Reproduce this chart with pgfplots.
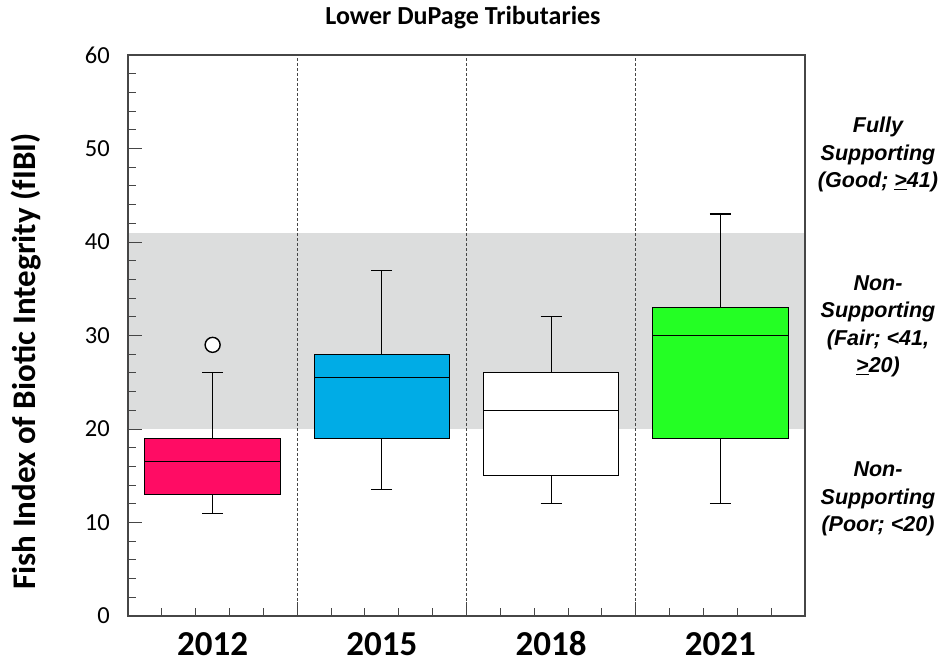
\documentclass[border=0pt]{standalone}
\usepackage{fontspec}
\setmainfont{Carlito}
\newfontfamily\arialfont{Liberation Sans}
\usepackage{pgfplots}
\pgfplotsset{compat=1.18}
\usepgfplotslibrary{statistics}
\definecolor{pinkbox}{RGB}{255,12,100}
\definecolor{bluebox}{RGB}{0,172,230}
\definecolor{greenbox}{RGB}{36,255,36}
\definecolor{bandgray}{RGB}{220,221,221}
\definecolor{axgray}{RGB}{70,70,70}
\begin{document}
\begin{tikzpicture}
\path[use as bounding box] (-128bp,-46bp) rectangle (815bp,616bp);
\begin{axis}[
  at={(0,0)}, anchor=south west,
  scale only axis, width=677bp, height=561bp,
  xmin=-0.5, xmax=3.5, ymin=0, ymax=60,
  xtick={0,1,2,3}, xticklabels={2012,2015,2018,2021},
  minor xtick={-0.3,-0.1,0.1,0.3,0.7,0.9,1.1,1.3,1.7,1.9,2.1,2.3,2.7,2.9,3.1,3.3},
  ytick={0,10,...,60}, minor ytick={2,4,...,58},
  xtick pos=bottom, ytick pos=left,
  tick align=inside,
  major tick length=14bp, minor tick length=8bp,
  major x tick style={draw=none},
  tick style={axgray, line width=1bp},
  axis line style={axgray, line width=1.6bp},
  axis on top,
  /pgf/number format/assume math mode=true,
  yticklabel style={font=\fontsize{24.5bp}{24.5bp}\selectfont, anchor=east, inner sep=0pt, xshift=-18bp},
  xticklabel style={font=\bfseries\fontsize{35bp}{35bp}\selectfont, anchor=base, inner sep=0pt, yshift=-39bp},
  clip=false,
  boxplot/draw direction=y,
]
\addplot[draw=none, fill=bandgray, forget plot] coordinates {(-0.5,20) (3.5,20) (3.5,41) (-0.5,41)} -- cycle;
\addplot[axgray, line width=0.8bp, dash pattern=on 3bp off 2bp, forget plot] coordinates {(0.5,0) (0.5,60)};
\addplot[axgray, line width=0.8bp, dash pattern=on 3bp off 2bp, forget plot] coordinates {(1.5,0) (1.5,60)};
\addplot[axgray, line width=0.8bp, dash pattern=on 3bp off 2bp, forget plot] coordinates {(2.5,0) (2.5,60)};
\addplot[axgray, line width=1bp, forget plot] coordinates {(0.5,0) (0.5,1.5)};
\addplot[axgray, line width=1bp, forget plot] coordinates {(1.5,0) (1.5,1.5)};
\addplot[axgray, line width=1bp, forget plot] coordinates {(2.5,0) (2.5,1.5)};
\addplot[boxplot prepared={draw position=0, lower whisker=11, lower quartile=13, median=16.5, upper quartile=19, upper whisker=26, box extend=0.8, whisker extend=0.125}, draw=black, fill=pinkbox, line width=1.1bp] coordinates {};
\addplot[boxplot prepared={draw position=1, lower whisker=13.5, lower quartile=19, median=25.5, upper quartile=28, upper whisker=37, box extend=0.8, whisker extend=0.125}, draw=black, fill=bluebox, line width=1.1bp] coordinates {};
\addplot[boxplot prepared={draw position=2, lower whisker=12, lower quartile=15, median=22, upper quartile=26, upper whisker=32, box extend=0.8, whisker extend=0.125}, draw=black, fill=white, line width=1.1bp] coordinates {};
\addplot[boxplot prepared={draw position=3, lower whisker=12, lower quartile=19, median=30, upper quartile=33, upper whisker=43, box extend=0.8, whisker extend=0.125}, draw=black, fill=greenbox, line width=1.1bp] coordinates {};
\addplot[only marks, mark=*, mark size=7.5bp, mark options={fill=white, draw=black, line width=1.4bp}] coordinates {(0,29)};
\end{axis}
\node[font=\bfseries\fontsize{26bp}{26bp}\selectfont, anchor=base] at (335bp,591bp) {Lower DuPage Tributaries};
\node[rotate=90, anchor=base, font=\bfseries\fontsize{33bp}{33bp}\selectfont] at (-92bp,254.5bp) {Fish Index of Biotic Integrity (fIBI)};
\node[align=center, font=\arialfont\bfseries\itshape\fontsize{21.5bp}{27.5bp}\selectfont] at (750bp,461.5bp) {Fully\\Supporting\\(Good; \underline{>}41)};
\node[align=center, font=\arialfont\bfseries\itshape\fontsize{21.5bp}{27.5bp}\selectfont] at (750bp,289.5bp) {Non-\\Supporting\\(Fair; <41,\\\underline{>}20)};
\node[align=center, font=\arialfont\bfseries\itshape\fontsize{21.5bp}{27.5bp}\selectfont] at (750bp,117bp) {Non-\\Supporting\\(Poor; <20)};
\end{tikzpicture}
\end{document}
